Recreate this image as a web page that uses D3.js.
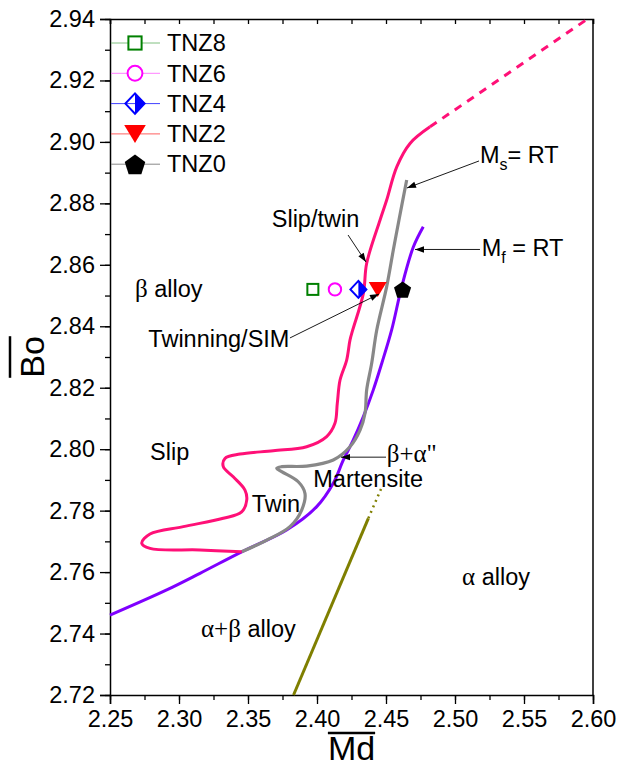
<!DOCTYPE html>
<html><head><meta charset="utf-8">
<script src="https://cdn.jsdelivr.net/npm/d3@7"></script>
<style>body{margin:0;background:#fff}svg{display:block}text{font-family:"Liberation Sans",Arial,sans-serif}</style>
</head><body>
<script>
// ---- data ----
const xTicks = [2.25,2.30,2.35,2.40,2.45,2.50,2.55,2.60];
const yTicks = [2.72,2.74,2.76,2.78,2.80,2.82,2.84,2.86,2.88,2.90,2.92,2.94];
const seriesNames = ["TNZ8","TNZ6","TNZ4","TNZ2","TNZ0"];
const seriesMd = [2.397,2.413,2.430,2.444,2.462];
const seriesBo = [2.852,2.852,2.852,2.852,2.852];
// slip / twin boundary (pink)
const pinkMd = [2.3454,2.3152,2.2790,2.2730,2.2790,2.3031,2.3321,2.3454,2.3491,2.3478,2.3393,2.3321,2.3333,2.3442,2.3683,2.3925,2.4070,2.4130,2.4147,2.4167,2.4215,2.4239,2.4259,2.4336,2.4360,2.4457,2.4505,2.4578,2.4674,2.4819];
const pinkBo = [2.7666,2.7672,2.7677,2.7694,2.7724,2.7748,2.7775,2.7796,2.7835,2.7867,2.7910,2.7943,2.7970,2.7984,2.7995,2.8008,2.8041,2.8084,2.8149,2.8225,2.8290,2.8355,2.8388,2.8507,2.8605,2.8746,2.8811,2.8919,2.8995,2.9049];
const pinkDashMd = [2.4819,2.596];
const pinkDashBo = [2.9049,2.9400];
// Ms = RT (gray)
const grayMd = [2.3454,2.3636,2.3804,2.3889,2.3913,2.3864,2.3744,2.3708,2.3744,2.3925,2.4118,2.4239,2.4312,2.4348,2.4360,2.4396,2.4433,2.4505,2.4553,2.4594,2.4650];
const grayBo = [2.7666,2.7704,2.7748,2.7802,2.7856,2.7894,2.7927,2.7938,2.7943,2.7945,2.7965,2.8008,2.8062,2.8117,2.8193,2.8279,2.8388,2.8529,2.8648,2.8746,2.8876];
// Mf = RT (violet)
const violetMd = [2.2500,2.2911,2.3152,2.3454,2.3780,2.3998,2.4118,2.4191,2.4263,2.4336,2.4408,2.4469,2.4541,2.4614,2.4698,2.4770];
const violetBo = [2.7460,2.7542,2.7596,2.7666,2.7737,2.7813,2.7889,2.7965,2.8030,2.8106,2.8193,2.8279,2.8388,2.8529,2.8658,2.8724];
// alpha+beta / alpha boundary (olive)
const oliveMd = [2.3830,2.4372];
const oliveBo = [2.7200,2.7775];
const oliveDotMd = [2.4372,2.4476];
const oliveDotBo = [2.7775,2.7883];

const W = 618, H = 767;
const m = {l:110, r:25, t:19, b:72};
const svg = d3.select("body").append("svg").attr("width",W).attr("height",H);
const x = d3.scaleLinear().domain([2.25,2.60]).range([m.l, W-m.r]);
const y = d3.scaleLinear().domain([2.72,2.94]).range([H-m.b, m.t]);
const FS = 23.5;

// axes
const xMinor = d3.range(0,15).map(i=>2.25+i*0.025);
const yMinor = d3.range(0,23).map(i=>2.72+i*0.01);
const gx = svg.append("g").attr("transform",`translate(0,${y(2.72)})`)
  .call(d3.axisBottom(x).tickValues(xMinor).tickSize(5).tickFormat(""));
gx.select(".domain").remove();
svg.append("g").attr("transform",`translate(0,${y(2.72)})`)
  .call(d3.axisBottom(x).tickValues(xTicks).tickSize(9).tickPadding(6).tickFormat(d3.format(".2f")))
  .call(g=>g.selectAll("text").attr("font-size",FS).attr("fill","#000").attr("font-family","Liberation Sans, Arial"))
  .call(g=>g.select(".domain").attr("stroke-width",1.5));
const gy = svg.append("g").attr("transform",`translate(${x(2.25)},0)`)
  .call(d3.axisLeft(y).tickValues(yMinor).tickSize(5).tickFormat(""));
gy.select(".domain").remove();
svg.append("g").attr("transform",`translate(${x(2.25)},0)`)
  .call(d3.axisLeft(y).tickValues(yTicks).tickSize(10).tickPadding(5).tickFormat(d3.format(".2f")))
  .call(g=>g.selectAll("text").attr("font-size",FS).attr("fill","#000").attr("font-family","Liberation Sans, Arial"))
  .call(g=>g.select(".domain").attr("stroke-width",1.5));
// top axis (inward ticks)
const gt = svg.append("g").attr("transform",`translate(0,${y(2.94)})`)
  .call(d3.axisBottom(x).tickValues(xMinor).tickSize(5).tickFormat(""));
gt.select(".domain").attr("stroke-width",1.5);
svg.append("line").attr("x1",x(2.60)).attr("x2",x(2.60)).attr("y1",y(2.94)).attr("y2",y(2.72))
  .attr("stroke","#000").attr("stroke-width",1.5);
svg.selectAll(".tick line").attr("stroke-width",1.3);

// axis titles
const xt = svg.append("text").attr("x",(x(2.25)+x(2.60))/2).attr("y",H-7)
  .attr("text-anchor","middle").attr("font-size",34).text("Md");
const yt = svg.append("text").attr("transform",`translate(44,${(y(2.72)+y(2.94))/2}) rotate(-90)`)
  .attr("text-anchor","middle").attr("font-size",34).text("Bo");
{
  const b = xt.node().getBBox();
  svg.append("line").attr("x1",b.x).attr("x2",b.x+b.width).attr("y1",b.y+4).attr("y2",b.y+4).attr("stroke","#000").attr("stroke-width",2.5);
  const c = yt.node().getBBox();
  const cy=(y(2.72)+y(2.94))/2;
  svg.append("line").attr("x1",44-c.height+4).attr("x2",44-c.height+4).attr("y1",cy-c.width/2).attr("y2",cy+c.width/2).attr("stroke","#000").attr("stroke-width",2.5);
}

// curves
const line = d3.line().x(d=>x(d[0])).y(d=>y(d[1])).curve(d3.curveCatmullRom.alpha(0.5));
const zip = (a,b)=>a.map((v,i)=>[v,b[i]]);
const plot = svg.append("g");
plot.append("path").attr("d",line(zip(violetMd,violetBo))).attr("fill","none").attr("stroke","#7f00ff").attr("stroke-width",3);
plot.append("path").attr("d",line(zip(grayMd,grayBo))).attr("fill","none").attr("stroke","#888").attr("stroke-width",3.2);
plot.append("path").attr("d",line(zip(pinkMd,pinkBo))).attr("fill","none").attr("stroke","#ff1077").attr("stroke-width",3);
plot.append("path").attr("d",line(zip(pinkDashMd,pinkDashBo))).attr("fill","none").attr("stroke","#ff1077").attr("stroke-width",3).attr("stroke-dasharray","8,7");
plot.append("path").attr("d",line(zip(oliveMd,oliveBo))).attr("fill","none").attr("stroke","#7f7f00").attr("stroke-width",3);
plot.append("path").attr("d",line(zip(oliveDotMd,oliveDotBo))).attr("fill","none").attr("stroke","#7f7f00").attr("stroke-width",2.5).attr("stroke-dasharray","2,4");

// markers
function marker(g, i, cx, cy, s){
  if(i===0){ g.append("rect").attr("x",cx-5.5*s).attr("y",cy-5.5*s).attr("width",11*s).attr("height",11*s).attr("fill","#fff").attr("stroke","#008000").attr("stroke-width",2); }
  if(i===1){ g.append("circle").attr("cx",cx).attr("cy",cy).attr("r",6.2*s).attr("fill","#fff").attr("stroke","#ff00ff").attr("stroke-width",2); }
  if(i===2){ const w=8*s,h=8.5*s;
    g.append("path").attr("d",`M${cx},${cy-h}L${cx+w},${cy}L${cx},${cy+h}Z`).attr("fill","#0000ff");
    g.append("path").attr("d",`M${cx},${cy-h}L${cx+w},${cy}L${cx},${cy+h}L${cx-w},${cy}Z`).attr("fill","none").attr("stroke","#0000ff").attr("stroke-width",2); }
  if(i===3){ const w=9*s,h=7.5*s;
    g.append("path").attr("d",`M${cx-w},${cy-h}L${cx+w},${cy-h}L${cx},${cy+h}Z`).attr("fill","#ff0000"); }
  if(i===4){ const r=9*s; const pts=d3.range(5).map(k=>{const a=-Math.PI/2+k*2*Math.PI/5;return [cx+r*Math.cos(a),cy+r*Math.sin(a)+1*s];});
    g.append("path").attr("d","M"+pts.join("L")+"Z").attr("fill","#000"); }
}
const mg = svg.append("g");
seriesNames.forEach((n,i)=>marker(mg,i,x(seriesMd[i]),y(seriesBo[i]),1));

// legend
const legColors = ["#80c080","#ff80ff","#4040ff","#ff6060","#888"];
const lg = svg.append("g");
seriesNames.forEach((n,i)=>{
  const cy = 43 + i*30.3;
  lg.append("line").attr("x1",111).attr("x2",160).attr("y1",cy).attr("y2",cy).attr("stroke",legColors[i]).attr("stroke-width",1);
  marker(lg,i,135,cy,1.2);
  lg.append("text").attr("x",167).attr("y",cy).attr("dy","0.35em").attr("font-size",FS).text(n);
});

// annotations
const ann = svg.append("g").attr("font-size",FS).attr("fill","#000");
function txt(md,bo,parts){
  const t = ann.append("text").attr("x",x(md)).attr("y",y(bo));
  parts.forEach(p=>{
    const s = t.append("tspan").text(p.t);
    if(p.serif) s.attr("font-family","Liberation Serif, Times New Roman, serif").attr("font-size",p.fs||25);
    if(p.sub) s.attr("font-size",16).attr("dy",7);
    if(p.up) s.attr("dy",-7);
  });
}
txt(2.2681,2.8496,[{t:"β",serif:true},{t:" alloy"}]);
txt(2.3672,2.8723,[{t:"Slip/twin"}]);
txt(2.2778,2.8333,[{t:"Twinning/SIM"}]);
txt(2.5181,2.8930,[{t:"M"},{t:"s",sub:true},{t:"= RT",up:true}]);
txt(2.5193,2.8629,[{t:"M"},{t:"f",sub:true},{t:" = RT",up:true}]);
txt(2.2790,2.7965,[{t:"Slip"}]);
txt(2.3527,2.7797,[{t:"Twin"}]);
txt(2.4505,2.7959,[{t:"β+α\"",serif:true}]);
txt(2.3973,2.7878,[{t:"Martensite"}]);
txt(2.5051,2.7558,[{t:"α",serif:true},{t:" alloy"}]);
txt(2.3159,2.7389,[{t:"α+β",serif:true},{t:" alloy"}]);

// arrows
const arrowFrom = [[2.4225,2.8697],[2.3804,2.8362],[2.5174,2.8938],[2.5181,2.8650],[2.4500,2.7974]];
const arrowTo   = [[2.4355,2.8609],[2.4449,2.8505],[2.4652,2.8850],[2.4710,2.8650],[2.4174,2.7974]];
arrowFrom.forEach((f,i)=>{
  const x1=x(f[0]),y1=y(f[1]),x2=x(arrowTo[i][0]),y2=y(arrowTo[i][1]);
  svg.append("line").attr("x1",x1).attr("y1",y1).attr("x2",x2).attr("y2",y2).attr("stroke","#000").attr("stroke-width",0.9);
  const a=Math.atan2(y2-y1,x2-x1), L=9, Wd=3.2;
  const p=[[x2,y2],[x2-L*Math.cos(a)+Wd*Math.sin(a),y2-L*Math.sin(a)-Wd*Math.cos(a)],[x2-L*Math.cos(a)-Wd*Math.sin(a),y2-L*Math.sin(a)+Wd*Math.cos(a)]];
  svg.append("path").attr("d","M"+p.join("L")+"Z").attr("fill","#000");
});
</script>
</body></html>
